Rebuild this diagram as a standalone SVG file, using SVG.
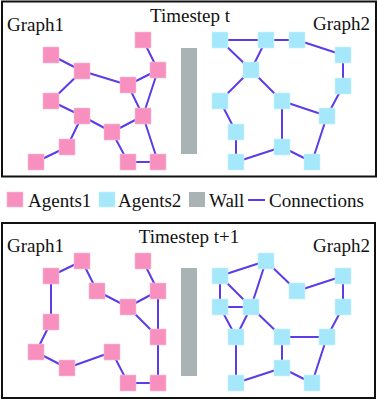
<svg xmlns="http://www.w3.org/2000/svg" width="379" height="402" viewBox="0 0 379 402">
<style>
.frame{fill:#fff;stroke:#111;stroke-width:2}
.t{font-family:"Liberation Serif","Times New Roman",serif;font-size:19px;fill:#111}
.lg{font-family:"Liberation Serif","Times New Roman",serif;font-size:19px;fill:#111}
.a1{fill:#f78fbf;stroke:#fbc0d8;stroke-width:0.6}
.a2{fill:#a6e8fb;stroke:#c8f2fd;stroke-width:0.6}
.wall{fill:#aab3b3}
.e{stroke:#5b3ce8;stroke-width:2;fill:none}
</style>
<rect width="379" height="402" fill="#fff"/>
<g id="panel-top">
<rect class="frame" x="2" y="1.5" width="374" height="175"/>
<text class="t" x="190" y="22" text-anchor="middle">Timestep t</text>
<text class="t" x="7" y="31">Graph1</text>
<text class="t" x="313" y="30">Graph2</text>
</g>
<g id="panel-bottom">
<rect class="frame" x="2" y="223" width="373" height="175"/>
<text class="t" x="189" y="243" text-anchor="middle">Timestep t+1</text>
<text class="t" x="7" y="252">Graph1</text>
<text class="t" x="313" y="252">Graph2</text>
</g>
<g id="connectors">
<path class="e" d="M51,55L82,71 M82,71L128,85 M82,71L51,101 M128,85L158,70 M143,40L158,70 M158,70L143,116 M128,85L143,116 M51,101L82,116 M82,116L112,132 M82,116L67,147 M67,147L36,162 M112,132L143,116 M112,132L128,162 M143,116L158,162 M128,162L158,162"/>
<path class="e" d="M220,40L266,40 M266,40L297,40 M297,40L343,55 M220,40L251,70 M266,40L251,70 M251,70L220,101 M251,70L282,101 M343,55L343,86 M343,86L327,116 M220,101L236,132 M282,101L327,116 M282,101L282,147 M236,132L236,162 M236,162L282,147 M282,147L312,162 M327,116L312,162"/>
<path class="e" d="M82,261L51,276 M82,261L97,291 M51,276L51,322 M97,291L128,307 M143,261L158,291 M128,307L158,291 M128,307L158,337 M158,291L158,337 M51,322L36,352 M36,352L67,368 M67,368L112,352 M112,352L128,383 M128,383L158,383 M158,337L158,383"/>
<path class="e" d="M266,261L220,276 M266,261L297,291 M266,261L251,307 M220,276L220,307 M220,276L251,307 M220,307L251,307 M297,291L343,276 M343,276L343,307 M220,307L236,337 M251,307L236,337 M251,307L282,337 M236,337L236,383 M282,337L327,337 M282,337L282,368 M343,307L327,337 M327,337L312,383 M236,383L282,368 M282,368L312,383"/>
<path class="e" d="M248,200L265,200"/>
</g>
<g id="wall-top"><rect class="wall" x="181" y="48" width="16" height="106"/></g>
<g id="wall-bottom"><rect class="wall" x="181" y="268" width="16" height="108"/></g>
<g id="graph1-top">
<rect class="a1" x="43" y="47" width="16" height="16"/>
<rect class="a1" x="74" y="63" width="16" height="16"/>
<rect class="a1" x="135" y="32" width="16" height="16"/>
<rect class="a1" x="150" y="62" width="16" height="16"/>
<rect class="a1" x="120" y="77" width="16" height="16"/>
<rect class="a1" x="43" y="93" width="16" height="16"/>
<rect class="a1" x="74" y="108" width="16" height="16"/>
<rect class="a1" x="135" y="108" width="16" height="16"/>
<rect class="a1" x="104" y="124" width="16" height="16"/>
<rect class="a1" x="59" y="139" width="16" height="16"/>
<rect class="a1" x="28" y="154" width="16" height="16"/>
<rect class="a1" x="120" y="154" width="16" height="16"/>
<rect class="a1" x="150" y="154" width="16" height="16"/>
</g>
<g id="graph2-top">
<rect class="a2" x="212" y="32" width="16" height="16"/>
<rect class="a2" x="258" y="32" width="16" height="16"/>
<rect class="a2" x="289" y="32" width="16" height="16"/>
<rect class="a2" x="335" y="47" width="16" height="16"/>
<rect class="a2" x="243" y="62" width="16" height="16"/>
<rect class="a2" x="335" y="78" width="16" height="16"/>
<rect class="a2" x="212" y="93" width="16" height="16"/>
<rect class="a2" x="274" y="93" width="16" height="16"/>
<rect class="a2" x="319" y="108" width="16" height="16"/>
<rect class="a2" x="228" y="124" width="16" height="16"/>
<rect class="a2" x="274" y="139" width="16" height="16"/>
<rect class="a2" x="228" y="154" width="16" height="16"/>
<rect class="a2" x="304" y="154" width="16" height="16"/>
</g>
<g id="graph1-bottom">
<rect class="a1" x="74" y="253" width="16" height="16"/>
<rect class="a1" x="43" y="268" width="16" height="16"/>
<rect class="a1" x="135" y="253" width="16" height="16"/>
<rect class="a1" x="89" y="283" width="16" height="16"/>
<rect class="a1" x="150" y="283" width="16" height="16"/>
<rect class="a1" x="120" y="299" width="16" height="16"/>
<rect class="a1" x="43" y="314" width="16" height="16"/>
<rect class="a1" x="150" y="329" width="16" height="16"/>
<rect class="a1" x="28" y="344" width="16" height="16"/>
<rect class="a1" x="104" y="344" width="16" height="16"/>
<rect class="a1" x="59" y="360" width="16" height="16"/>
<rect class="a1" x="120" y="375" width="16" height="16"/>
<rect class="a1" x="150" y="375" width="16" height="16"/>
</g>
<g id="graph2-bottom">
<rect class="a2" x="258" y="253" width="16" height="16"/>
<rect class="a2" x="212" y="268" width="16" height="16"/>
<rect class="a2" x="335" y="268" width="16" height="16"/>
<rect class="a2" x="289" y="283" width="16" height="16"/>
<rect class="a2" x="212" y="299" width="16" height="16"/>
<rect class="a2" x="243" y="299" width="16" height="16"/>
<rect class="a2" x="335" y="299" width="16" height="16"/>
<rect class="a2" x="228" y="329" width="16" height="16"/>
<rect class="a2" x="274" y="329" width="16" height="16"/>
<rect class="a2" x="319" y="329" width="16" height="16"/>
<rect class="a2" x="274" y="360" width="16" height="16"/>
<rect class="a2" x="228" y="375" width="16" height="16"/>
<rect class="a2" x="304" y="375" width="16" height="16"/>
</g>
<g id="legend">
<rect class="a1" x="7" y="192" width="16" height="15"/>
<text class="lg" x="28" y="207">Agents1</text>
<rect class="a2" x="99" y="192" width="16" height="15"/>
<text class="lg" x="118" y="207">Agents2</text>
<rect class="wall" x="189" y="192" width="16" height="15"/>
<text class="lg" x="209" y="207">Wall</text>
<text class="lg" x="269" y="207">Connections</text>
</g>
</svg>
